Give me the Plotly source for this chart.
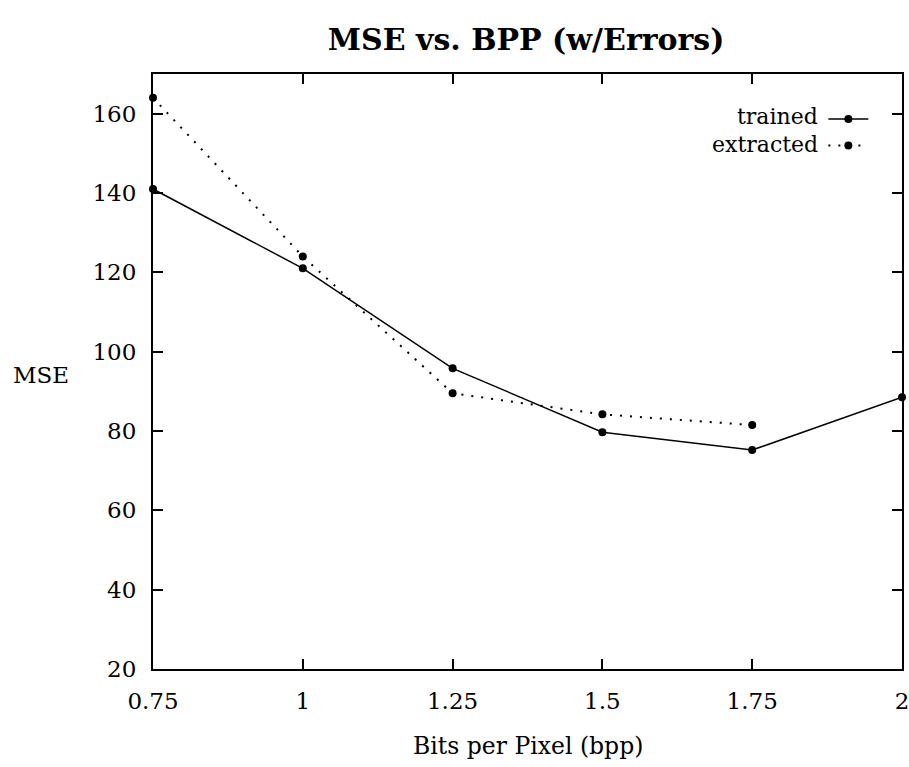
import plotly.graph_objects as go

bpp_trained = [0.75, 1.0, 1.25, 1.5, 1.75, 2.0]
mse_trained = [141, 121, 95.8, 79.7, 75.2, 88.5]
bpp_extracted = [0.75, 1.0, 1.25, 1.5, 1.75]
mse_extracted = [164, 124, 89.5, 84.2, 81.5]
x_ticks = [0.75, 1.0, 1.25, 1.5, 1.75, 2.0]
x_tick_text = ["0.75", "1", "1.25", "1.5", "1.75", "2"]
y_ticks = [20, 40, 60, 80, 100, 120, 140, 160]

FONT = "DejaVu Serif"

fig = go.Figure()
fig.add_trace(go.Scatter(
    x=bpp_trained, y=mse_trained, mode="lines+markers", name=" ",
    line=dict(color="black", width=1.5),
    marker=dict(color="black", size=8),
    cliponaxis=False,
))
fig.add_trace(go.Scatter(
    x=bpp_extracted, y=mse_extracted, mode="lines+markers", name=" ",
    line=dict(color="black", width=2, dash="2px,8px"),
    marker=dict(color="black", size=8),
    cliponaxis=False,
))

axis_common = dict(
    showgrid=False, zeroline=False, showline=True, linecolor="black", linewidth=2,
    mirror="ticks", ticks="inside", ticklen=10, tickwidth=2, tickcolor="black",
    tickfont=dict(family=FONT, size=23, color="black"),
)
fig.update_xaxes(range=[0.75, 2.0], tickvals=x_ticks, ticktext=x_tick_text,
                 ticklabelstandoff=10, **axis_common)
fig.update_yaxes(range=[20, 170], tickvals=y_ticks, ticklabelstandoff=10, **axis_common)

fig.update_layout(
    width=915, height=767,
    margin=dict(l=153, r=6, t=74, b=98),
    paper_bgcolor="white", plot_bgcolor="white",
    font=dict(family=FONT, color="black", size=22),
    title=dict(text="<b>MSE vs. BPP (w/Errors)</b>", x=0.575, xanchor="center",
               y=0.948, yanchor="middle", font=dict(family=FONT, size=30)),
    showlegend=True,
    legend=dict(x=0.895, y=0.955, xanchor="left", yanchor="top",
                bgcolor="rgba(0,0,0,0)", font=dict(size=18), itemwidth=40,
                tracegroupgap=0),
    annotations=[
        dict(text="MSE", x=-0.149, xref="paper", y=0.494, yref="paper", showarrow=False,
             xanchor="center", yanchor="middle", font=dict(size=23)),
        dict(text="Bits per Pixel (bpp)", x=0.5, xref="paper", y=-0.129, yref="paper",
             showarrow=False, yanchor="middle", font=dict(size=23.5)),
        dict(text="trained", x=0.89, xref="paper", y=0.928, yref="paper", showarrow=False,
             xanchor="right", yanchor="middle", font=dict(size=22)),
        dict(text="extracted", x=0.89, xref="paper", y=0.881, yref="paper", showarrow=False,
             xanchor="right", yanchor="middle", font=dict(size=22)),
    ],
)

fig.write_html("out.html", config={"displayModeBar": False},
               post_script="document.body.style.margin='0';document.body.style.overflow='hidden';")
